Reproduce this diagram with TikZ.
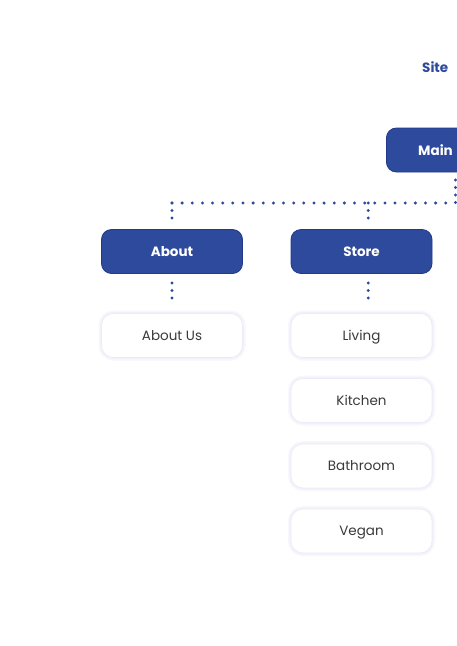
\documentclass[tikz,border=0pt]{standalone}
\usepackage{fontspec}
\setmainfont{Poppins}
\definecolor{sblue}{HTML}{2E4A9C}
\definecolor{sbluedark}{HTML}{22398C}
\definecolor{sglowa}{HTML}{F7F7FD}
\definecolor{sglowb}{HTML}{F1F1FA}
\definecolor{sglowc}{HTML}{ECECF7}
\definecolor{stext}{HTML}{3A3A3A}
\tikzset{
  headfont/.style={font=\fontsize{13.5}{15}\selectfont\bfseries},
  capbox/.style={text height=9.5pt, text depth=0pt},
  headbox/.style={rounded corners=10pt, fill=sblue, draw=sbluedark, line width=0.8pt,
    minimum width=141pt, minimum height=44pt, inner sep=0pt, capbox,
    text=white, headfont},
  itembox/.style={rounded corners=12pt, fill=white, draw=sglowc, line width=0.6pt,
    minimum width=141pt, minimum height=44pt, inner sep=0pt, capbox,
    text=stext, font=\fontsize{13.5}{15}\selectfont,
    preaction={draw=sglowa, line width=6pt},
    preaction={draw=sglowb, line width=3pt}},
  hdots/.style={draw=sblue, line width=3.3pt, line cap=round, dash pattern=on 0pt off 10.14pt},
  vdots/.style={draw=sblue, line width=3.3pt, line cap=round, dash pattern=on 0pt off 7.5pt},
}
\begin{document}
\begin{tikzpicture}[x=1pt,y=-1pt]
\useasboundingbox (0,0) rectangle (457,646);
\fill[white] (0,0) rectangle (457,646);
\begin{scope}
\clip (0,0) rectangle (457,646);
\node[text=sblue, headfont, anchor=west, inner sep=0pt, capbox] (site) at (422,67.5) {Site};
\node[headbox, minimum width=142pt, anchor=west] (main) at (386,150) {};
\node[text=white, headfont, anchor=west, inner sep=0pt, capbox] (mainlbl) at (418,150.5) {Main};
\end{scope}
\node[headbox] (about) at (172,251.5) {About};
\node[headbox] (store) at (361.5,251.5) {Store};
\node[itembox] (aboutus) at (172,335.5) {About Us};
\node[itembox] (living) at (361.5,335.5) {Living};
\node[itembox] (kitchen) at (361.5,400.5) {Kitchen};
\node[itembox] (bathroom) at (361.5,466) {Bathroom};
\node[itembox] (vegan) at (361.5,531) {Vegan};
\coordinate (mdot) at (455.5,180);
\coordinate (hcorner) at (455.5,203);
\coordinate (hleft) at (172,203);
\coordinate (sdot) at (368.3,203);
\draw[vdots] (mdot) -- (hcorner);
\draw[hdots] (hleft) -- (hcorner);
\draw[vdots] (hleft) -- (172,219);
\draw[vdots] (sdot) -- (368.3,219);
\draw[vdots] (172,283) -- (172,299);
\draw[vdots] (368.3,283) -- (368.3,299);
\end{tikzpicture}
\end{document}
